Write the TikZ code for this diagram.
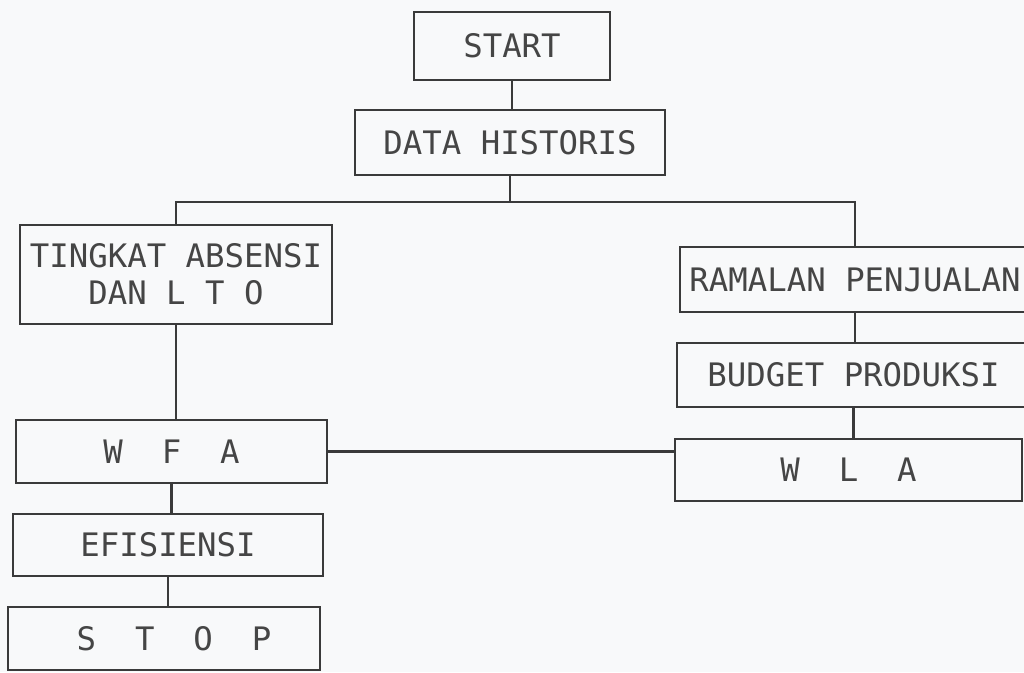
\documentclass[tikz,border=0pt]{standalone}
\usepackage{fontspec}
\setmonofont{DejaVu Sans Mono}
\definecolor{ink}{HTML}{3A3A3A}
\definecolor{txt}{HTML}{454545}
\definecolor{paper}{HTML}{F8F9FA}
\begin{document}
\begin{tikzpicture}[x=0.01cm,y=-0.01cm,
  box/.style={draw=ink, line width=0.7pt, rectangle, inner sep=0pt,
    text=txt, font=\ttfamily\fontsize{9.2}{10.6}\selectfont, align=center},
  link/.style={draw=ink, line width=0.7pt}]
  % page area and clipping (some boxes run off the right edge)
  \fill[paper] (0,0) rectangle (1024,672);
  \clip (0,0) rectangle (1024,672);

  % left column
  \node[box, minimum width=1.96cm, minimum height=0.68cm] (start) at (512,46) {START};
  \node[box, minimum width=3.10cm, minimum height=0.65cm] (data) at (510,142.5) {DATA HISTORIS};
  \node[box, minimum width=3.12cm, minimum height=0.99cm] (tingkat) at (176,274.5) {TINGKAT ABSENSI\\DAN L T O};
  \node[box, minimum width=3.11cm, minimum height=0.63cm] (wfa) at (171.5,451.5) {W~~F~~A};
  \node[box, minimum width=3.10cm, minimum height=0.62cm] (efi) at (168,545) {EFISIENSI};
  \node[box, minimum width=3.12cm, minimum height=0.63cm] (stop) at (164,638.5) {\hspace{0.2cm}S~~T~~O~~P};

  % right column
  \node[box, minimum width=3.50cm, minimum height=0.65cm] (ramalan) at (855,279.5) {RAMALAN PENJUALAN};
  \node[box, minimum width=3.53cm, minimum height=0.64cm] (budget) at (853.5,375) {BUDGET PRODUKSI};
  \node[box, minimum width=3.47cm, minimum height=0.62cm] (wla) at (848.5,470) {W~~L~~A};

  % branching bus under DATA HISTORIS
  \coordinate (bus) at (510,202);

  % connectors
  \draw[link] (start.south) -- (start.south |- data.north);
  \draw[link] (data.south) -- (data.south |- bus);
  \draw[link] (tingkat.north) |- (bus) -| (ramalan.north);
  \draw[link] (tingkat.south) -- (tingkat.south |- wfa.north);
  \draw[link] (wfa.south) -- (wfa.south |- efi.north);
  \draw[link] (efi.south) -- (efi.south |- stop.north);
  \draw[link] (ramalan.south) -- (ramalan.south |- budget.north);
  \draw[link] (budget.south) -- (budget.south |- wla.north);
  \draw[link] (wfa.east) -- (wfa.east -| wla.west);
\end{tikzpicture}
\end{document}
